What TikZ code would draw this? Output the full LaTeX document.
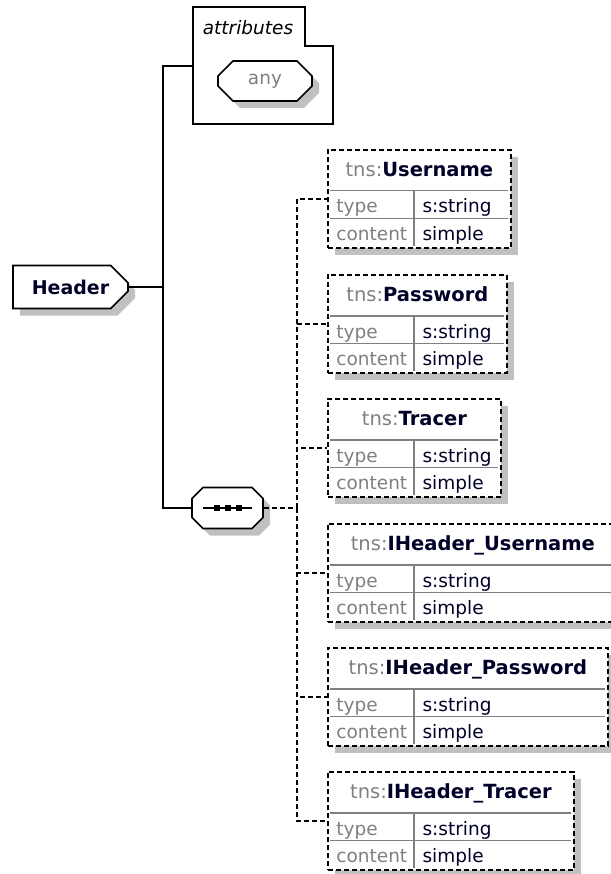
\documentclass[tikz,border=0pt]{standalone}
\usepackage{fontspec}
\setmainfont{DejaVu Sans}
\usepackage{xcolor,array,colortbl}
\definecolor{xsdgray}{RGB}{128,128,128}
\definecolor{xsdshadow}{RGB}{192,192,192}
\definecolor{xsdtext}{RGB}{0,0,40}
\setlength{\tabcolsep}{0pt}
\setlength{\arrayrulewidth}{1.2pt}
\arrayrulecolor{xsdgray}
\renewcommand{\arraystretch}{0.5}
\newcommand{\xsdhead}{\rule[-14pt]{0pt}{38pt}}
\newcommand{\xsdrow}{\rule[-5pt]{0pt}{26.5pt}}
\usepackage{tikz}
\usetikzlibrary{shapes.misc,shadows}

\begin{document}
\begin{tikzpicture}[x=1pt, y=-1pt, line width=1.6pt,
  font=\fontsize{18.5}{22}\selectfont,
  xsdshade/.style={drop shadow={shadow xshift=7pt, shadow yshift=-7pt,
    fill=xsdshadow, opacity=1}},
  topelem/.style={chamfered rectangle, chamfered rectangle corners={north east,south east},
    chamfered rectangle xsep=10pt, chamfered rectangle ysep=10pt, draw, fill=white,
    xsdshade, minimum width=115pt, minimum height=43pt, inner sep=0pt},
  octobox/.style={chamfered rectangle, chamfered rectangle xsep=8pt,
    chamfered rectangle ysep=8pt, draw, fill=white, xsdshade, inner sep=0pt},
  elembox/.style={draw, line width=1.8pt, dash pattern=on 5pt off 3pt, fill=white,
    xsdshade, inner sep=2.5pt, anchor=west},
  conn/.style={line width=1.6pt},
  dconn/.style={line width=1.8pt, dash pattern=on 5pt off 3pt}]

\useasboundingbox (0,0) rectangle (610,874);

% Root element
\node[topelem] (header) at (70.5,287) {\fontsize{19}{22}\selectfont\bfseries\color{xsdtext}Header};
\coordinate (branch) at (163,287);

% Attributes
\draw[fill=white] (193,7) -- (305,7) -- (305,46) -- (333,46) -- (333,124) -- (193,124) -- cycle;
\node (attrtitle) at (248,28) {\itshape attributes};
\node[octobox, minimum width=94pt, minimum height=40pt] (any) at (265,81) {\color{xsdgray}any};
\coordinate (attrin) at (193,66);

% Sequence
\node[octobox, minimum width=71pt, minimum height=41pt] (seq) at (227.5,508) {%
  \rule[2.2pt]{10.5pt}{1.6pt}\rule{6pt}{6pt}\rule[2.2pt]{5pt}{1.6pt}\rule{6pt}{6pt}%
  \rule[2.2pt]{5pt}{1.6pt}\rule{6pt}{6pt}\rule[2.2pt]{10.5pt}{1.6pt}};
\coordinate (bus) at (297,508);

% Child elements
\node[elembox] (username) at (327,199) {%
  \begin{tabular}{@{\hspace{6pt}}p{77pt}@{}|@{\hspace{8pt}}p{85.8pt}@{}}
  \multicolumn{2}{c}{\xsdhead\fontsize{19.5}{22}\selectfont\color{xsdgray}tns:\color{xsdtext}\bfseries Username}\\ \hline
  \xsdrow\color{xsdgray}type & \xsdrow\color{xsdtext}s:string\\ \hline
  \xsdrow\color{xsdgray}content & \xsdrow\color{xsdtext}simple
  \end{tabular}};

\node[elembox] (password) at (327,324) {%
  \begin{tabular}{@{\hspace{6pt}}p{77pt}@{}|@{\hspace{8pt}}p{81.8pt}@{}}
  \multicolumn{2}{c}{\xsdhead\fontsize{19.5}{22}\selectfont\color{xsdgray}tns:\color{xsdtext}\bfseries Password}\\ \hline
  \xsdrow\color{xsdgray}type & \xsdrow\color{xsdtext}s:string\\ \hline
  \xsdrow\color{xsdgray}content & \xsdrow\color{xsdtext}simple
  \end{tabular}};

\node[elembox] (tracer) at (327,448) {%
  \begin{tabular}{@{\hspace{6pt}}p{77pt}@{}|@{\hspace{8pt}}p{75.8pt}@{}}
  \multicolumn{2}{c}{\xsdhead\fontsize{19.5}{22}\selectfont\color{xsdgray}tns:\color{xsdtext}\bfseries Tracer}\\ \hline
  \xsdrow\color{xsdgray}type & \xsdrow\color{xsdtext}s:string\\ \hline
  \xsdrow\color{xsdgray}content & \xsdrow\color{xsdtext}simple
  \end{tabular}};

\node[elembox] (ihusername) at (327,573) {%
  \begin{tabular}{@{\hspace{6pt}}p{77pt}@{}|@{\hspace{8pt}}p{192.8pt}@{}}
  \multicolumn{2}{c}{\xsdhead\fontsize{19.5}{22}\selectfont\color{xsdgray}tns:\color{xsdtext}\bfseries IHeader\_Username}\\ \hline
  \xsdrow\color{xsdgray}type & \xsdrow\color{xsdtext}s:string\\ \hline
  \xsdrow\color{xsdgray}content & \xsdrow\color{xsdtext}simple
  \end{tabular}};

\node[elembox] (ihpassword) at (327,697) {%
  \begin{tabular}{@{\hspace{6pt}}p{77pt}@{}|@{\hspace{8pt}}p{182.8pt}@{}}
  \multicolumn{2}{c}{\xsdhead\fontsize{19.5}{22}\selectfont\color{xsdgray}tns:\color{xsdtext}\bfseries IHeader\_Password}\\ \hline
  \xsdrow\color{xsdgray}type & \xsdrow\color{xsdtext}s:string\\ \hline
  \xsdrow\color{xsdgray}content & \xsdrow\color{xsdtext}simple
  \end{tabular}};

\node[elembox] (ihtracer) at (327,821) {%
  \begin{tabular}{@{\hspace{6pt}}p{77pt}@{}|@{\hspace{8pt}}p{148.8pt}@{}}
  \multicolumn{2}{c}{\xsdhead\fontsize{19.5}{22}\selectfont\color{xsdgray}tns:\color{xsdtext}\bfseries IHeader\_Tracer}\\ \hline
  \xsdrow\color{xsdgray}type & \xsdrow\color{xsdtext}s:string\\ \hline
  \xsdrow\color{xsdgray}content & \xsdrow\color{xsdtext}simple
  \end{tabular}};

% Connectors
\draw[conn] (header.east) -- (branch);
\draw[conn] (attrin) -| (branch) |- (seq.west);
\draw[dconn] (seq.east) -- (bus);
\draw[dconn] (bus) |- (username.west);
\draw[dconn] (bus) |- (password.west);
\draw[dconn] (bus) |- (tracer.west);
\draw[dconn] (bus) |- (ihusername.west);
\draw[dconn] (bus) |- (ihpassword.west);
\draw[dconn] (bus) |- (ihtracer.west);

\end{tikzpicture}
\end{document}
